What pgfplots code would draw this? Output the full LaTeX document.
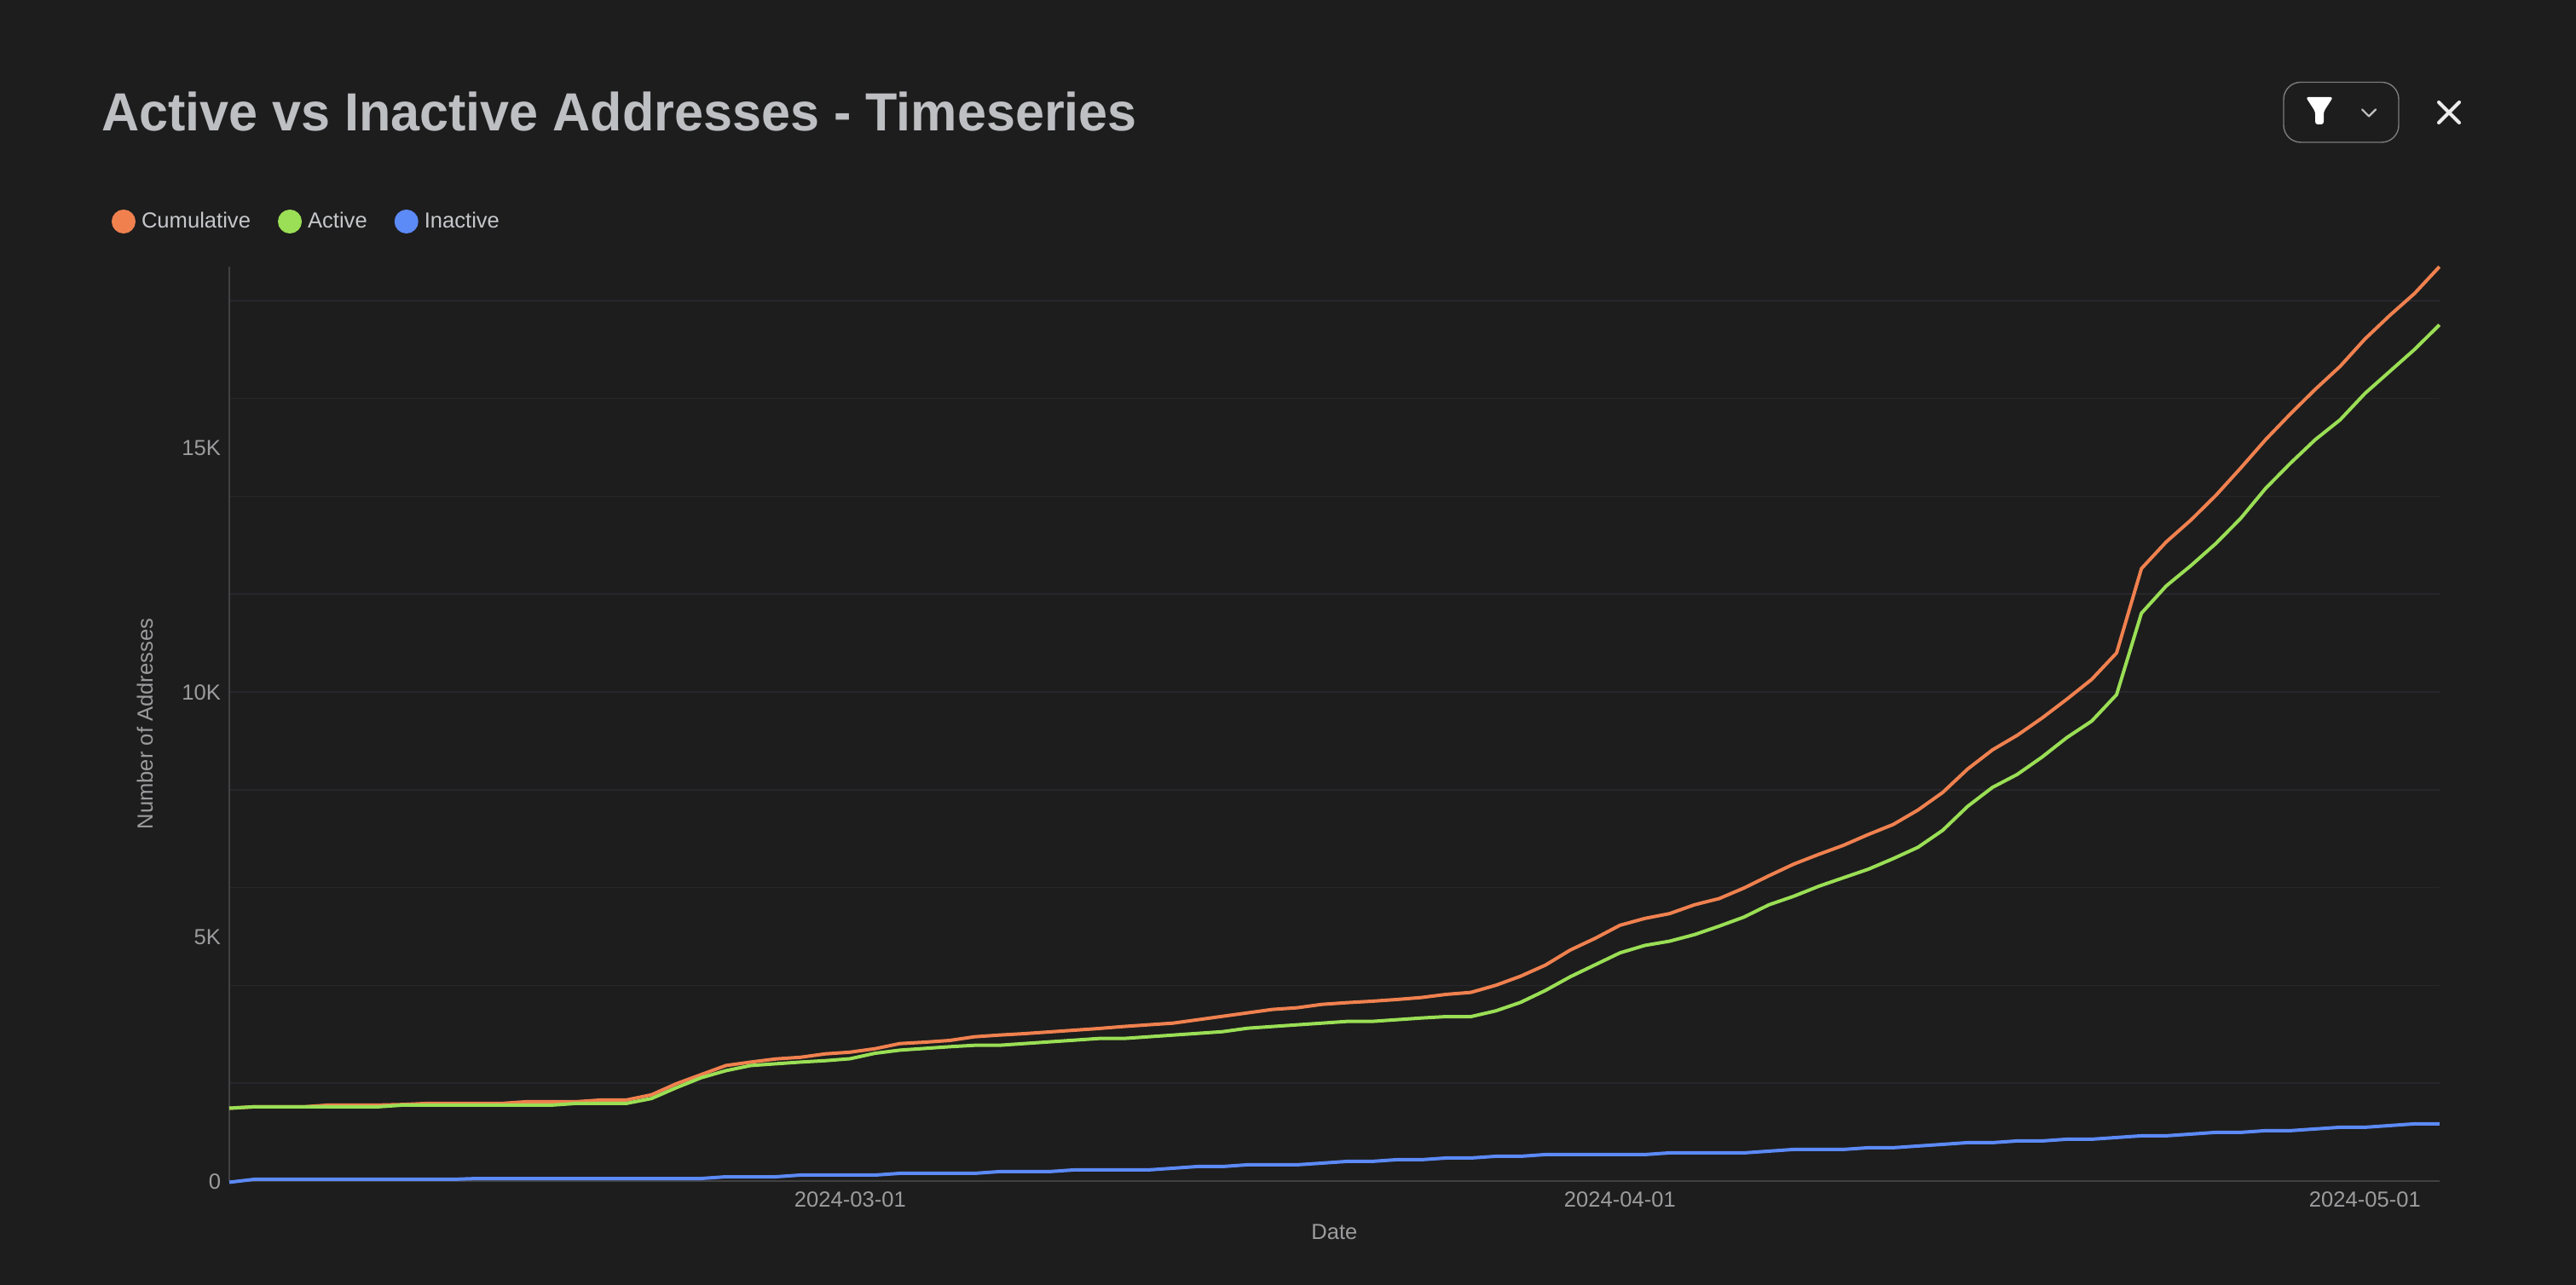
\documentclass[border=0pt]{standalone}
\usepackage{fontspec}
\setmainfont{Liberation Sans}
\usepackage{pgfplots}
\usepackage{pgfplotstable}
\pgfplotsset{compat=1.18}
\definecolor{bg}{HTML}{1D1D1D}
\definecolor{cO}{HTML}{F0814F}
\definecolor{cG}{HTML}{9ADF55}
\definecolor{cB}{HTML}{5C8AF6}
\definecolor{gridc}{HTML}{27272C}
\definecolor{axisc}{HTML}{414144}
\definecolor{tickc}{HTML}{9C9C9E}
\definecolor{titlec}{HTML}{BEBFC3}
\definecolor{legc}{HTML}{C6C7CB}
\pgfplotstableread{
i c a n
0 1489 1489 -25
1 1518 1518 35
2 1518 1518 35
3 1518 1518 35
4 1553 1518 35
5 1553 1518 35
6 1553 1518 35
7 1565 1553 35
8 1588 1553 35
9 1588 1553 35
10 1588 1553 52
11 1588 1553 52
12 1623 1553 52
13 1623 1553 52
14 1623 1588 52
15 1658 1588 52
16 1658 1588 52
17 1763 1687 52
18 1989 1908 52
19 2176 2112 52
20 2362 2257 87
21 2432 2362 87
22 2496 2397 87
23 2530 2432 122
24 2600 2461 122
25 2635 2501 122
26 2705 2612 122
27 2810 2676 157
28 2839 2711 157
29 2874 2746 157
30 2949 2775 157
31 2984 2775 192
32 3013 2810 192
33 3048 2845 192
34 3083 2879 227
35 3118 2914 227
36 3159 2914 227
37 3194 2949 227
38 3228 2984 262
39 3298 3019 297
40 3368 3054 297
41 3438 3124 332
42 3508 3159 332
43 3543 3194 332
44 3612 3228 366
45 3647 3263 401
46 3676 3263 401
47 3711 3298 436
48 3752 3333 436
49 3816 3362 471
50 3857 3362 471
51 4002 3479 506
52 4188 3653 506
53 4415 3897 541
54 4723 4177 541
55 4962 4421 541
56 5229 4665 541
57 5369 4817 541
58 5468 4904 576
59 5648 5038 576
60 5776 5212 576
61 5992 5398 576
62 6242 5648 611
63 6480 5823 646
64 6678 6026 646
65 6864 6201 646
66 7085 6375 681
67 7289 6591 681
68 7585 6823 716
69 7946 7172 750
70 8423 7660 785
71 8815 8048 785
72 9114 8314 820
73 9467 8669 820
74 9853 9068 855
75 10258 9405 855
76 10798 9945 890
77 12522 11609 925
78 13068 12168 925
79 13518 12586 960
80 14020 13036 995
81 14579 13550 995
82 15158 14161 1030
83 15685 14676 1030
84 16187 15158 1065
85 16656 15563 1099
86 17216 16103 1099
87 17698 16553 1134
88 18148 17003 1169
89 18694 17505 1169
}\datatable
\begin{document}
\begin{tikzpicture}[inner sep=0pt,outer sep=0pt]
\fill[bg] (0,0) rectangle (1511pt,754pt);
\path[use as bounding box] (0,0) rectangle (1511pt,754pt);
\begin{axis}[
  at={(134.5pt,61pt)}, anchor=south west,
  scale only axis, width=1296.5pt, height=536.5pt,
  xmin=0, xmax=89, ymin=0, ymax=18694, clip=false,
  axis lines=left, axis line style={-, draw=axisc, line width=0.8pt},
  scaled y ticks=false,
  xtick={25,56,86}, xticklabels={2024-03-01,2024-04-01,2024-05-01},
  ytick={0,5000,10000,15000}, yticklabels={0,5K,10K,15K},
  minor ytick={2000,4000,6000,8000,10000,12000,14000,16000,18000},
  yminorgrids=true, ymajorgrids=false,
  minor grid style={draw=gridc, line width=0.8pt},
  tick style={draw=none}, major tick length=0pt, minor tick length=0pt,
  /pgf/number format/assume math mode=true,
  tick label style={font=\fontsize{12.8}{15}\selectfont, text=tickc},
  xticklabel style={yshift=-6.5pt, inner sep=0pt},
  yticklabel style={xshift=-5pt, yshift=-0.5pt, inner sep=0pt},
  xlabel={Date}, ylabel={Number of Addresses},
  label style={font=\fontsize{12.8}{15}\selectfont, text=tickc},
  xlabel style={at={(axis description cs:0.5,0)}, anchor=center, yshift=-30pt},
  ylabel style={at={(axis description cs:0,0.5)}, anchor=center, yshift=49.5pt},
  legend columns=-1,
  legend style={at={(axis description cs:0,1)}, anchor=west, xshift=-69pt, yshift=26.5pt,
    draw=none, fill=none, font=\fontsize{12.8}{15}\selectfont, text=legc, inner sep=0pt, outer sep=0pt,
    /tikz/every odd column/.append style={column sep=1.5pt},
    /tikz/every even column/.append style={column sep=14pt}},
  legend image code/.code={\fill[#1] (6pt,0pt) circle (6pt);},
  legend cell align=left,
]
\addplot[color=cO, line width=2pt, line join=round] table[x=i,y=c] {\datatable};
\addplot[color=cG, line width=2pt, line join=round] table[x=i,y=a] {\datatable};
\addplot[color=cB, line width=2pt, line join=round] table[x=i,y=n] {\datatable};
\legend{Cumulative,Active,Inactive}
\end{axis}
\begin{scope}[x=0.5pt,y=-0.5pt,yshift=754pt]
\node[anchor=base west,text=titlec,font=\fontsize{31.5}{36}\selectfont\bfseries] at (119,154) {\scalebox{0.97}[1]{Active vs Inactive Addresses - Timeseries}};
\draw[draw=white!42!bg,line width=0.7pt,rounded corners=10pt] (2679,96.5) rectangle (2814,167);
\fill[white,rounded corners=1.5pt] (2705,114) -- (2737,114) -- (2726,131) -- (2726,146) -- (2716,146) -- (2716,131) -- cycle;
\draw[draw=white!72!bg,line width=1.1pt,line cap=round,line join=round] (2771,128.5) -- (2779,136.5) -- (2787,128.5);
\draw[draw=white!92!bg,line width=2pt,line cap=round] (2861,120) -- (2885,144) (2885,120) -- (2861,144);
\end{scope}
\end{tikzpicture}
\end{document}
